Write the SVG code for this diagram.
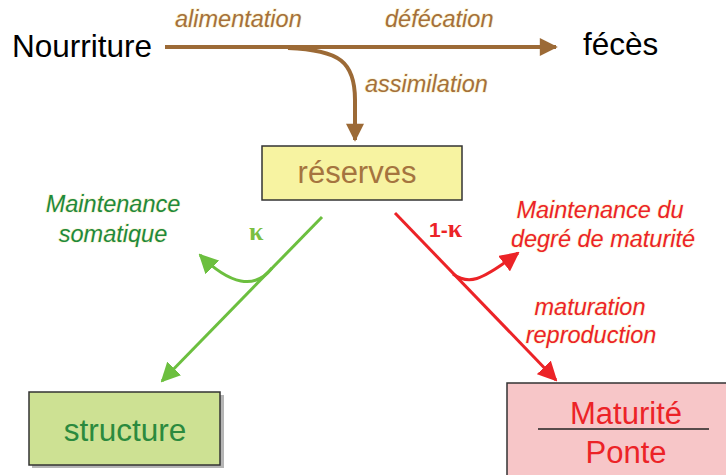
<svg xmlns="http://www.w3.org/2000/svg" width="726" height="475" viewBox="0 0 726 475">
<defs>
<style>
.t{font-family:"Liberation Sans",Arial,sans-serif}
.lab{font-family:"Liberation Sans",Arial,sans-serif;font-style:italic;font-size:23.5px;paint-order:stroke;stroke:#fbf6d8;stroke-width:1.5px}
.br{fill:#a5703a}
.gr{fill:#1f8a3c}
.rd{fill:#ec2327}
.box{stroke:#333;stroke-width:1.5}
.sh{fill:#b5b5b5}
</style>
<marker id="ab" viewBox="0 0 10 10" refX="9" refY="5" markerWidth="5" markerHeight="4.5" orient="auto" markerUnits="strokeWidth"><path d="M0,0L10,5L0,10z" fill="#9c6a36"/></marker>
<marker id="ag" viewBox="0 0 10 10" refX="9" refY="5" markerWidth="6.5" markerHeight="6.5" orient="auto" markerUnits="strokeWidth"><path d="M0,0L10,5L0,10z" fill="#6cbf3f"/></marker>
<marker id="ar" viewBox="0 0 10 10" refX="9" refY="5" markerWidth="6.5" markerHeight="6.5" orient="auto" markerUnits="strokeWidth"><path d="M0,0L10,5L0,10z" fill="#ec2327"/></marker>
</defs>
<rect width="726" height="475" fill="#fff"/>
<g id="connectors" fill="none">
<path d="M165,47H556" stroke="#9c6a36" stroke-width="4" marker-end="url(#ab)"/>
<path d="M288,48C340,50 355,62 355,100V140" stroke="#9c6a36" stroke-width="4" marker-end="url(#ab)"/>
<path d="M322,217L162,381" stroke="#6cbf3f" stroke-width="3" marker-end="url(#ag)"/>
<path d="M272,268C255,290 230,285 200,255" stroke="#6cbf3f" stroke-width="3" marker-end="url(#ag)"/>
<path d="M395,213L556,380" stroke="#ec2327" stroke-width="3" marker-end="url(#ar)"/>
<path d="M453,274C468,285 480,282 518,253" stroke="#ec2327" stroke-width="3" marker-end="url(#ar)"/>
</g>
<g id="labels">
<text class="lab br" x="175" y="27">alimentation</text>
<text class="lab br" x="385" y="27">défécation</text>
<text class="lab br" x="365" y="92">assimilation</text>
<text class="lab gr" x="113" y="212" text-anchor="middle">Maintenance</text>
<text class="lab gr" x="113" y="242" text-anchor="middle">somatique</text>
<text x="249" y="240" font-size="26" font-weight="bold" fill="#7bbf42" font-family="'Liberation Serif',serif">κ</text>
<text class="t rd" x="429" y="237" font-size="21" font-weight="bold">1-<tspan font-family="'Liberation Serif',serif" font-size="26">κ</tspan></text>
<text class="lab rd" x="600" y="218" text-anchor="middle">Maintenance du</text>
<text class="lab rd" x="603" y="247" text-anchor="middle">degré de maturité</text>
<text class="lab rd" x="590" y="315" text-anchor="middle">maturation</text>
<text class="lab rd" x="591" y="343" text-anchor="middle">reproduction</text>
</g>
<g id="nourriture"><text class="t" x="12" y="57" font-size="31.5" fill="#000">Nourriture</text></g>
<g id="feces"><text class="t" x="583" y="55" font-size="31.5" fill="#000">fécès</text></g>
<g id="reserves">
<rect class="box" x="262" y="146" width="200" height="54" fill="#f7f3a1"/>
<text class="t" x="357" y="183" font-size="31" fill="#a5743f" text-anchor="middle">réserves</text>
</g>
<g id="structure">
<rect class="sh" x="32" y="395" width="192" height="73"/>
<rect class="box" x="29" y="392" width="191" height="73" fill="#cde193"/>
<text class="t" x="125" y="441" font-size="31.5" fill="#2b8a3e" text-anchor="middle">structure</text>
</g>
<g id="maturite">
<rect class="box" x="507" y="383" width="225" height="100" fill="#f7c6c8"/>
<text class="t" x="626" y="424" font-size="31" fill="#ec2327" text-anchor="middle">Maturité</text>
<line x1="538" y1="429" x2="709" y2="429" stroke="#222" stroke-width="1.5"/>
<text class="t" x="626" y="463" font-size="31" fill="#ec2327" text-anchor="middle">Ponte</text>
</g>
</svg>
